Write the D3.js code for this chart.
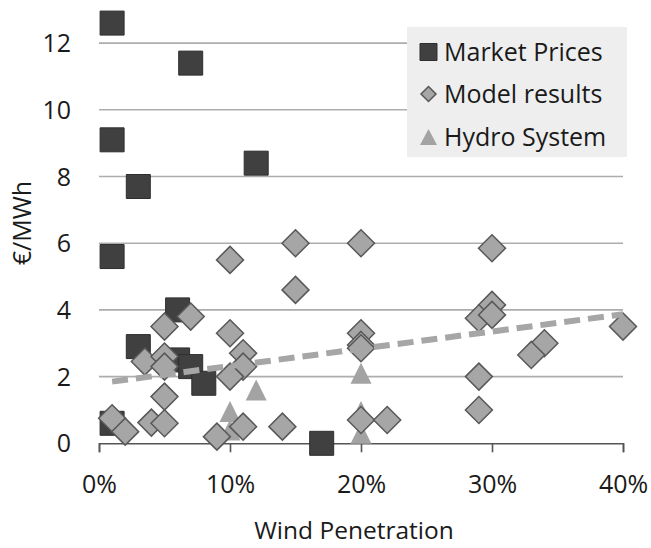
<!DOCTYPE html>
<html><head><meta charset="utf-8">
<script src="https://cdn.jsdelivr.net/npm/d3@7"></script>
<style>body{margin:0;background:#fff}svg{display:block}text{font-family:"Open Sans",sans-serif;fill:#1a1a1a}</style>
</head><body>
<svg id="c" width="651" height="548"></svg>
<script>
// Wind penetration (%) and €/MWh values
const marketX = [1, 7, 1, 12, 3, 1, 6, 3, 6, 7, 8, 1, 17];
const marketY = [12.6, 11.4, 9.1, 8.4, 7.7, 5.6, 4.0, 2.9, 2.5, 2.3, 1.8, 0.6, 0.0];
const modelX = [10, 15, 15, 7, 5, 10, 11, 3.5, 5, 5, 11, 10, 5, 1, 2, 4, 5, 9, 11, 14,
                20, 30, 30, 29, 30, 40, 20, 20, 20, 34, 33, 29, 29, 20, 22];
const modelY = [5.5, 6.0, 4.6, 3.8, 3.5, 3.3, 2.7, 2.45, 2.6, 2.3, 2.3, 2.0, 1.4, 0.75, 0.35, 0.62, 0.6, 0.2, 0.5, 0.5,
                6.0, 5.85, 4.15, 3.75, 3.85, 3.5, 3.3, 2.95, 2.85, 3.0, 2.65, 2.0, 1.0, 0.7, 0.7];
const hydroX = [20, 12, 10, 10, 20, 20];
const hydroY = [2.1, 1.6, 0.95, 0.4, 0.95, 0.3];
const trendX = [1, 40];
const trendY = [1.85, 3.87];
const yTicks = [0, 2, 4, 6, 8, 10, 12];
const xTicks = [0, 10, 20, 30, 40];
const seriesNames = ["Market Prices", "Model results", "Hydro System"];

const svg = d3.select("#c");
const x = d3.scaleLinear().domain([0, 40]).range([99, 623]);
const y = d3.scaleLinear().domain([0, 12]).range([443.3, 43.1]);

// gridlines
svg.append("g").selectAll("line").data(yTicks.filter(d => d > 0)).join("line")
  .attr("x1", x(0)).attr("x2", x(40)).attr("y1", d => y(d)).attr("y2", d => y(d))
  .attr("stroke", "#adadad").attr("stroke-width", 1.6);

// y tick labels
svg.append("g").selectAll("text").data(yTicks).join("text")
  .attr("x", 71).attr("y", d => y(d)).attr("dy", "0.36em").attr("text-anchor", "end")
  .attr("font-size", 25).text(d => d);

// x axis
const xAxis = d3.axisBottom(x).tickValues(xTicks).tickSize(9).tickFormat(d => d + "%");
const gx = svg.append("g").attr("transform", `translate(0,${y(0)})`).call(xAxis);
gx.select(".domain").attr("stroke", "#555").attr("stroke-width", 1.6);
gx.selectAll(".tick line").attr("stroke", "#555").attr("stroke-width", 1.6);
gx.selectAll(".tick text").attr("font-size", 25).attr("fill", "#1a1a1a")
  .attr("font-family", '"Open Sans",sans-serif').attr("dy", 0).attr("y", 50);

// axis titles
svg.append("text").attr("x", 354).attr("y", 539).attr("text-anchor", "middle")
  .attr("font-size", 24.5).text("Wind Penetration");
svg.append("text").attr("transform", "translate(31,223) rotate(-90)").attr("text-anchor", "middle")
  .attr("font-size", 25).text("€/MWh");

function squarePath(s) { return `M${-s/2},${-s/2}h${s}v${s}h${-s}Z`; }
function diamondPath(r) { return `M0,${-r}L${r},0L0,${r}L${-r},0Z`; }
function triPath(w, h) { return `M0,${-h/2}L${w/2},${h/2}L${-w/2},${h/2}Z`; }

// Market prices
svg.append("g").selectAll("path").data(d3.zip(marketX, marketY)).join("path")
  .attr("d", squarePath(24)).attr("transform", d => `translate(${x(d[0])},${y(d[1])})`)
  .attr("fill", "#404040").attr("stroke", "#2e2e2e").attr("stroke-width", 1);

// Hydro
svg.append("g").selectAll("path").data(d3.zip(hydroX, hydroY)).join("path")
  .attr("d", triPath(21, 21)).attr("transform", d => `translate(${x(d[0])},${y(d[1])})`)
  .attr("fill", "#a3a3a3");

// Model results
svg.append("g").selectAll("path").data(d3.zip(modelX, modelY)).join("path")
  .attr("d", diamondPath(13.5)).attr("transform", d => `translate(${x(d[0])},${y(d[1])})`)
  .attr("fill", "#a6a6a6").attr("stroke", "#585858").attr("stroke-width", 1.5);

// trend line
svg.append("path").datum(d3.zip(trendX, trendY))
  .attr("d", d3.line().x(d => x(d[0])).y(d => y(d[1])))
  .attr("fill", "none").attr("stroke", "#a6a6a6").attr("stroke-width", 6)
  .attr("stroke-dasharray", "16,8");

// legend
const lg = svg.append("g");
lg.append("rect").attr("x", 407).attr("y", 27).attr("width", 220).attr("height", 130).attr("fill", "#eeeeee");
const ly = [52, 94, 137];
lg.append("path").attr("d", squarePath(17)).attr("transform", `translate(428.5,${ly[0]})`)
  .attr("fill", "#404040").attr("stroke", "#2e2e2e");
lg.append("path").attr("d", diamondPath(7.5)).attr("transform", `translate(428.5,${ly[1]})`)
  .attr("fill", "#a6a6a6").attr("stroke", "#585858").attr("stroke-width", 1.5);
lg.append("path").attr("d", triPath(17, 16)).attr("transform", `translate(428.5,${ly[2]})`)
  .attr("fill", "#a3a3a3");
lg.selectAll("text.l").data(seriesNames).join("text").attr("class", "l")
  .attr("x", 444).attr("y", (d, i) => ly[i]).attr("dy", "0.36em")
  .attr("font-size", 25).text(d => d);
</script>
</body></html>
